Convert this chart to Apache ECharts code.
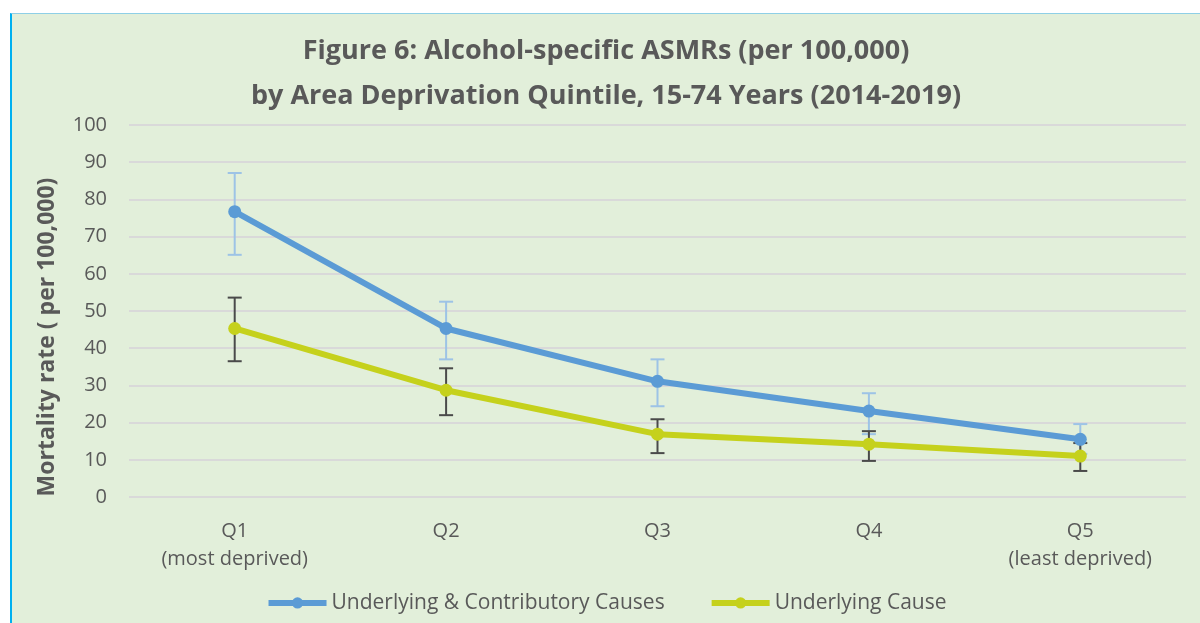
<!DOCTYPE html>
<html>
<head>
  <title>Figure 6</title>
  <script src="https://cdn.jsdelivr.net/npm/echarts@6/dist/echarts.min.js"></script>
  <style>
    body { margin: 0; background: #ffffff; }
    #wrap {
      position: absolute; left: 10px; top: 13px; width: 1188px; height: 609px;
      background: #e2efda; border-left: 2px solid #00b0f0; border-top: 1px solid #8ecfe6;
    }
    #main { width: 1188px; height: 609px; }
  </style>
</head>
<body>
  <div id="wrap"><div id="main"></div></div>
  <script>
    var categories = ['Q1\n(most deprived)', 'Q2', 'Q3', 'Q4', 'Q5\n(least deprived)'];
    var yTicks = [0, 10, 20, 30, 40, 50, 60, 70, 80, 90, 100];

    // Underlying & Contributory Causes
    var contribRate = [76.7, 45.3, 31.1, 23.1, 15.5];
    var contribLow = [65.1, 37.0, 24.4, 16.9, 11.6];
    var contribHigh = [87.1, 52.5, 37.0, 27.9, 19.6];

    // Underlying Cause
    var underRate = [45.3, 28.7, 16.9, 14.2, 11.0];
    var underLow = [36.5, 22.0, 11.8, 9.7, 7.0];
    var underHigh = [53.6, 34.6, 20.9, 17.7, 14.5];

    var colors = { contrib: '#5b9bd5', under: '#c5d11c', contribErr: '#9dc3e6', underErr: '#4a4a4a' };

    function errorSeries(low, high, color) {
      return {
        type: 'custom',
        z: 1,
        silent: true,
        data: low.map(function (v, i) { return [i, v, high[i]]; }),
        renderItem: function (params, api) {
          var lo = api.coord([api.value(0), api.value(1)]);
          var hi = api.coord([api.value(0), api.value(2)]);
          var w = 7;
          var style = { stroke: color, lineWidth: 2 };
          return {
            type: 'group',
            children: [
              { type: 'line', shape: { x1: lo[0], y1: lo[1], x2: hi[0], y2: hi[1] }, style: style },
              { type: 'line', shape: { x1: hi[0] - w, y1: hi[1], x2: hi[0] + w, y2: hi[1] }, style: style },
              { type: 'line', shape: { x1: lo[0] - w, y1: lo[1], x2: lo[0] + w, y2: lo[1] }, style: style }
            ]
          };
        }
      };
    }

    var myChart = echarts.init(document.getElementById('main'));
    var option = {
      textStyle: { fontFamily: 'Open Sans' },
      title: {
        text: 'Figure 6: Alcohol-specific ASMRs (per 100,000)\nby Area Deprivation Quintile, 15-74 Years (2014-2019)',
        left: 'center',
        top: 10,
        textStyle: { fontSize: 27, fontWeight: 'bold', color: '#595959', lineHeight: 45, fontFamily: 'Open Sans' }
      },
      // y axis title
      graphic: [{
        type: 'text',
        x: 35,
        y: 323,
        rotation: Math.PI / 2,
        style: {
          text: 'Mortality rate ( per 100,000)',
          font: 'bold 23px "Open Sans"',
          fill: '#595959',
          align: 'center',
          verticalAlign: 'middle'
        }
      }],
      legend: {
        bottom: -2,
        left: 'center',
        itemWidth: 58,
        itemHeight: 14,
        itemGap: 44,
        lineStyle: { width: 6 },
        textStyle: { fontSize: 21, color: '#595959' },
        data: ['Underlying & Contributory Causes', 'Underlying Cause']
      },
      grid: { left: 117, right: 14, top: 111, bottom: 126, outerBoundsMode: 'none' },
      xAxis: {
        type: 'category',
        data: categories,
        axisLine: { show: false },
        axisTick: { show: false },
        axisLabel: { fontSize: 20, color: '#595959', lineHeight: 28, margin: 20 }
      },
      yAxis: {
        type: 'value',
        min: yTicks[0],
        max: yTicks[yTicks.length - 1],
        interval: 10,
        axisLabel: { fontSize: 20, color: '#595959', margin: 22 },
        splitLine: { lineStyle: { color: '#d9d9d9', width: 2 } }
      },
      series: [
        errorSeries(contribLow, contribHigh, colors.contribErr),
        errorSeries(underLow, underHigh, colors.underErr),
        {
          name: 'Underlying & Contributory Causes',
          type: 'line',
          z: 3,
          data: contribRate,
          symbol: 'circle',
          symbolSize: 13,
          color: colors.contrib,
          lineStyle: { width: 6, color: colors.contrib }
        },
        {
          name: 'Underlying Cause',
          type: 'line',
          z: 3,
          data: underRate,
          symbol: 'circle',
          symbolSize: 13,
          color: colors.under,
          lineStyle: { width: 6, color: colors.under }
        }
      ]
    };
    myChart.setOption(option);
  </script>
</body>
</html>
